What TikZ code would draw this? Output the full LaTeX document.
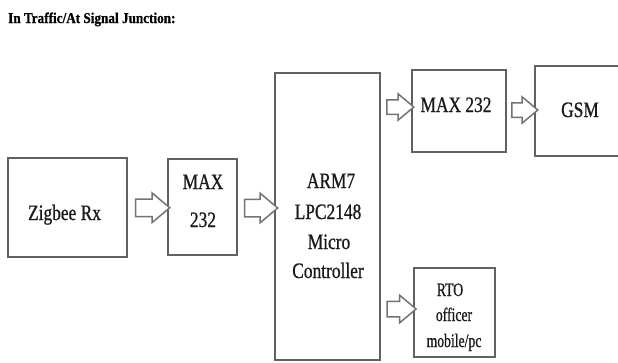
\documentclass[tikz,border=0pt]{standalone}
\usepackage{fontspec}
\setmainfont{Liberation Serif}
\newfontfamily\mainfnt[FakeStretch=0.79,FakeBold=0.8]{Liberation Serif}
\newfontfamily\smallfnt[FakeStretch=0.72,FakeBold=0.8]{Liberation Serif}
\newfontfamily\titlefnt[FakeStretch=0.88,FakeBold=0.6]{Liberation Serif}
\usetikzlibrary{shapes.arrows,calc}
\begin{document}
\begin{tikzpicture}[x=1pt,y=-1pt,
  box/.style={draw=black!62, line width=1.5pt, rectangle, inner sep=0pt},
  lbl/.style={anchor=base, inner sep=0pt, font=\mainfnt\fontsize{22}{25}\selectfont, text=black!90},
  slbl/.style={anchor=base, inner sep=0pt, font=\smallfnt\fontsize{19}{23}\selectfont, text=black!90},
  barrow/.style={single arrow, draw=black!55, line width=1.5pt, fill=white,
    inner xsep=0pt, inner ysep=#1, single arrow head extend=6pt,
    single arrow tip angle=80},
  barrow/.default=7pt
]
\useasboundingbox (0,0) rectangle (618,362);
\clip (0,0) rectangle (618,362);

% title
\node[anchor=base west, inner sep=0pt, font=\titlefnt\bfseries\fontsize{15}{18}\selectfont] (title) at (8,23) {In Traffic/At Signal Junction:};

% boxes
\node[box, minimum width=119pt, minimum height=99pt] (zig) at (67.5,207.5) {};
\node[box, minimum width=69pt, minimum height=96pt] (max1) at (202.5,207) {};
\node[box, minimum width=105pt, minimum height=287pt] (arm) at (327.5,216.5) {};
\node[box, minimum width=94pt, minimum height=82pt] (max2) at (459,111) {};
\node[box, minimum width=95pt, minimum height=90pt] (gsm) at (582.5,111) {};
\node[box, minimum width=81pt, minimum height=89pt] (rto) at (454.5,312.5) {};

% texts
\node[lbl] (tzig) at (64.5,220) {Zigbee Rx};
\node[lbl] (tmax1a) at (203,189) {MAX};
\node[lbl] (tmax1b) at (203,227) {232};
\node[lbl] (tarm1) at (331,188) {ARM7};
\node[lbl] (tarm2) at (328,219) {LPC2148};
\node[lbl] (tarm3) at (329,249) {Micro};
\node[lbl] (tarm4) at (328,278) {Controller};
\node[lbl] (tmax2) at (456,112) {MAX 232};
\node[lbl] (tgsm) at (580,117) {GSM};
\node[slbl] (trto1) at (450,296) {RTO};
\node[slbl] (trto2) at (454,321) {officer};
\node[slbl] (trto3) at (454,347) {mobile/pc};

% block arrows
\node[barrow=8pt, minimum height=34pt] (a1) at ($(zig.east)!0.5!(max1.west)+(0,0.5)$) {};
\node[barrow=8pt, minimum height=33pt] (a2) at ($(max1.east)!0.5!(max1.east -| arm.west)+(0,1)$) {};
\node[barrow=6.5pt, minimum height=27pt] (a3) at ($(arm.east |- max2.west)!0.5!(max2.west)+(0,-4)$) {};
\node[barrow=6.5pt, minimum height=26pt] (a4) at ($(max2.east)!0.5!(gsm.west)+(0,-1)$) {};
\node[barrow=7pt, minimum height=29pt] (a5) at ($(arm.east |- rto.west)!0.5!(rto.west)+(0,-3.5)$) {};
\end{tikzpicture}
\end{document}
